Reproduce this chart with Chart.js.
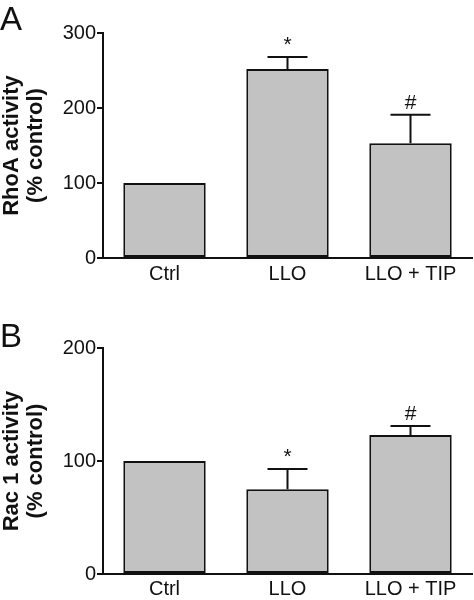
<!DOCTYPE html>
<html>
<head>
<meta charset="utf-8">
<script src="https://cdn.jsdelivr.net/npm/chart.js@4/dist/chart.umd.min.js"></script>
<style>
  body { margin: 0; background: #fff; }
  .panel { position: relative; width: 474px; }
</style>
</head>
<body>
<div class="panel" style="height:290px"><canvas id="graficoRhoA"></canvas></div>
<div class="panel" style="height:314px"><canvas id="graficoRac1"></canvas></div>
<script>
// datos
var categorias = ['Ctrl', 'LLO', 'LLO + TIP'];
var rhoaData = [100, 252, 153];
var rhoaError = [0, 16, 38];
var rhoaMarcas = ['', '*', '#'];
var rhoaMax = 300;
var rac1Data = [100, 75, 123];
var rac1Error = [0, 18, 8];
var rac1Marcas = ['', '*', '#'];
var rac1Max = 200;

var fuente = "'Liberation Sans', Arial, sans-serif";

// barras de error (solo hacia arriba) y marcas de significancia
var errorBarras = {
    id: 'errorBarras',
    afterDatasetsDraw: function (chart, args, opts) {
        var ctx = chart.ctx;
        var y = chart.scales.y;
        var meta = chart.getDatasetMeta(0);
        ctx.save();
        ctx.strokeStyle = '#111';
        ctx.lineWidth = 2;
        ctx.fillStyle = '#111';
        ctx.font = '21px ' + fuente;
        ctx.textAlign = 'center';
        ctx.textBaseline = 'bottom';
        opts.valores.forEach(function (v, i) {
            var x = meta.data[i].x;
            var yBar = y.getPixelForValue(v);
            var yTop = y.getPixelForValue(v + opts.errores[i]);
            if (opts.errores[i] > 0) {
                ctx.beginPath();
                ctx.moveTo(x, yBar);
                ctx.lineTo(x, yTop);
                ctx.moveTo(x - 20, yTop);
                ctx.lineTo(x + 20, yTop);
                ctx.stroke();
            }
            if (opts.marcas[i]) {
                ctx.fillText(opts.marcas[i], x, yTop - 1);
            }
        });
        // letra del panel
        ctx.font = '33px ' + fuente;
        ctx.textAlign = 'left';
        ctx.textBaseline = 'alphabetic';
        ctx.fillText(opts.letra, 0, opts.letraY);
        ctx.restore();
    }
};

function crearGrafico(id, datos, errores, marcas, maximo, titulo, letra, letraY, padding, xPad) {
    var ctx = document.getElementById(id).getContext('2d');
    return new Chart(ctx, {
        type: 'bar',
        data: {
            labels: categorias,
            datasets: [{
                data: datos,
                backgroundColor: '#c2c2c2',
                borderColor: '#111',
                borderWidth: 2,
                borderSkipped: false,
                barPercentage: 0.67,
                categoryPercentage: 1.0
            }]
        },
        options: {
            responsive: true,
            maintainAspectRatio: false,
            animation: false,
            layout: { padding: padding },
            plugins: {
                legend: { display: false },
                tooltip: { enabled: false },
                errorBarras: { valores: datos, errores: errores, marcas: marcas, letra: letra, letraY: letraY }
            },
            scales: {
                x: {
                    grid: { display: false, tickLength: 0 },
                    border: { display: true, color: '#111', width: 2 },
                    ticks: { color: '#111', padding: xPad, font: { family: fuente, size: 20 } }
                },
                y: {
                    min: 0,
                    max: maximo,
                    afterFit: function (s) { s.width = 103; },
                    ticks: { stepSize: 100, color: '#111', padding: 1, font: { family: fuente, size: 20 } },
                    grid: { drawOnChartArea: false, drawTicks: true, tickLength: 6, color: '#111', lineWidth: 2 },
                    border: { display: true, color: '#111', width: 2 },
                    title: {
                        display: true,
                        text: titulo,
                        color: '#111',
                        padding: { top: 0, bottom: 2 },
                        font: { family: fuente, size: 22, weight: 'bold', lineHeight: 1.1 }
                    }
                }
            }
        },
        plugins: [errorBarras]
    });
}

crearGrafico('graficoRhoA', rhoaData, rhoaError, rhoaMarcas, rhoaMax,
    ['RhoA activity', '(% control)'], 'A', 30, { top: 33, right: 2, left: 0, bottom: 0 }, 4);
crearGrafico('graficoRac1', rac1Data, rac1Error, rac1Marcas, rac1Max,
    ['Rac 1 activity', '(% control)'], 'B', 57, { top: 58, right: 2, left: 0, bottom: 0 }, 3);
</script>
</body>
</html>
